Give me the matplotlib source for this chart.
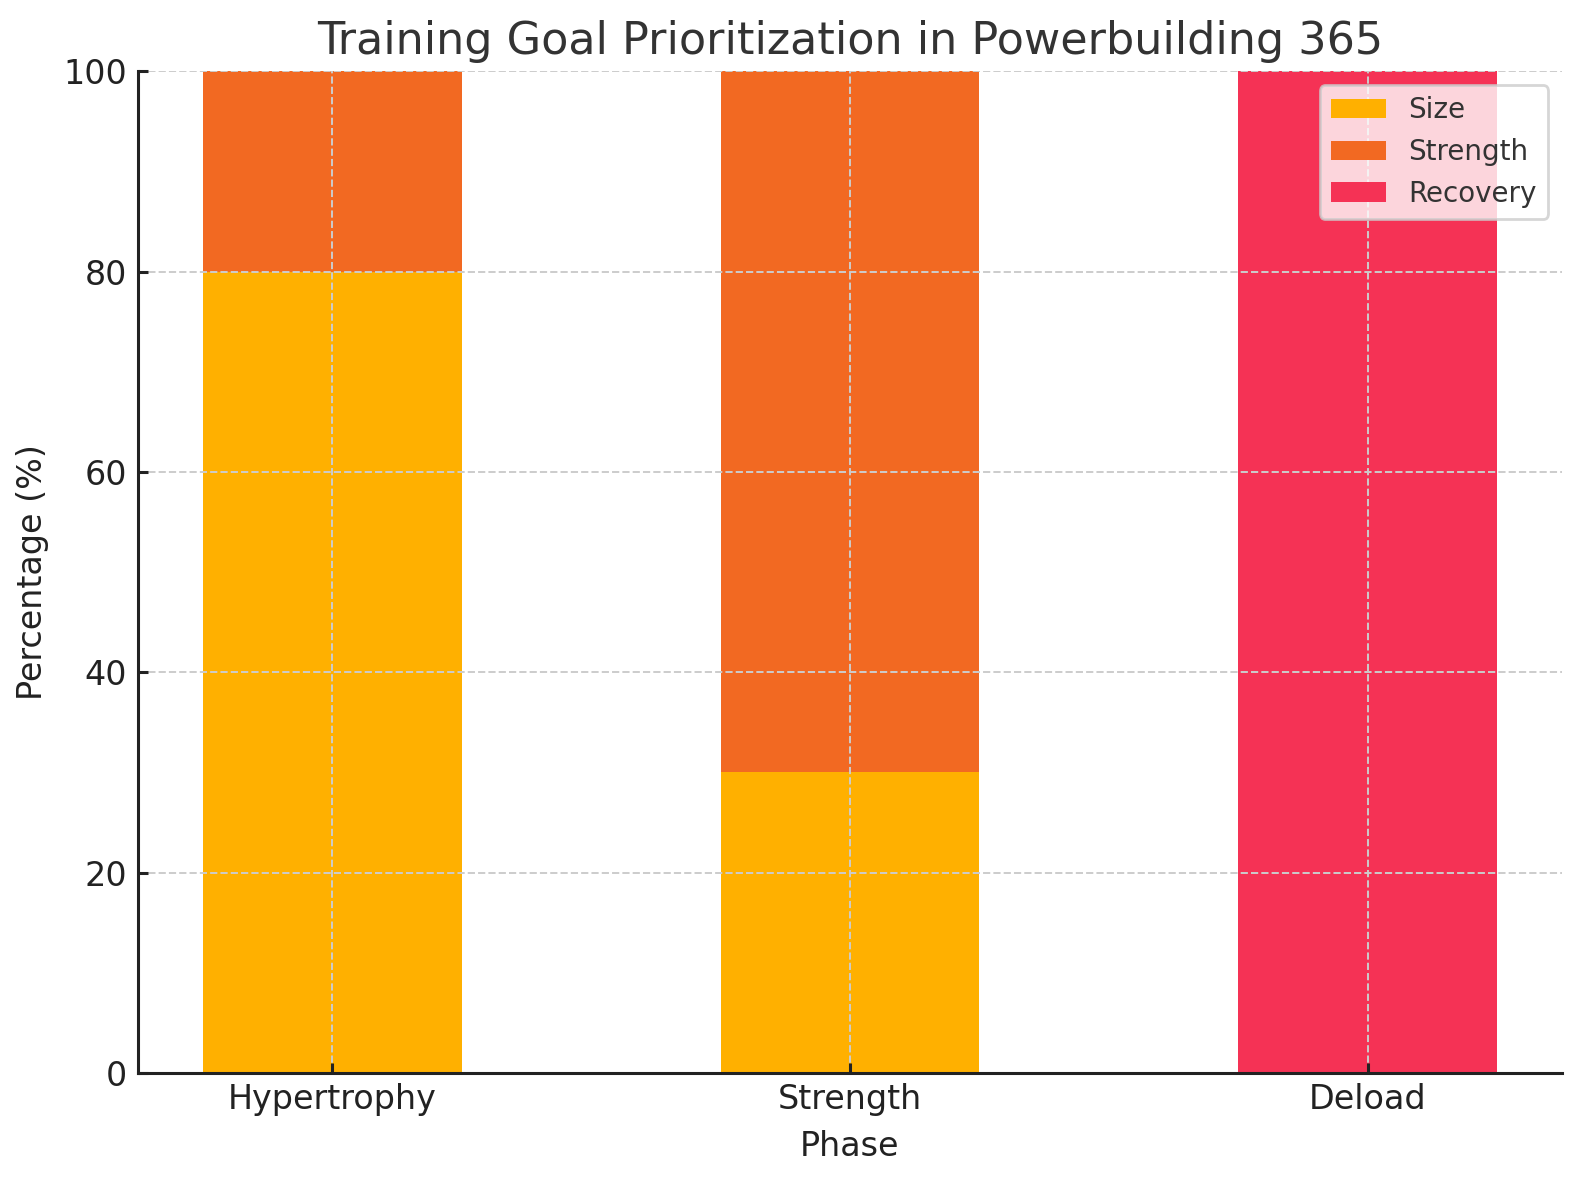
import matplotlib
matplotlib.use("Agg")
import matplotlib.pyplot as plt
import numpy as np

phases = ["Hypertrophy", "Strength", "Deload"]
size_vals = [80, 30, 0]
strength_vals = [20, 70, 0]
recovery_vals = [0, 0, 100]

colors = {"Size": "#FFB000", "Strength": "#F26922", "Recovery": "#F53255"}

fig = plt.figure(figsize=(7.9, 5.9), dpi=200)
ax = fig.add_axes([0.0873, 0.0907, 0.9013, 0.849])

x = np.arange(len(phases))
w = 0.5
ax.bar(x, size_vals, w, color=colors["Size"], label="Size", zorder=1)
ax.bar(x, strength_vals, w, bottom=size_vals, color=colors["Strength"], label="Strength", zorder=1)
bottom2 = np.array(size_vals) + np.array(strength_vals)
ax.bar(x, recovery_vals, w, bottom=bottom2, color=colors["Recovery"], label="Recovery", zorder=1)

ax.set_ylim(0, 100)
ax.set_xticks(x)
ax.set_xticklabels(phases)
ax.tick_params(axis="both", labelsize=12, colors="#222222", direction="in", length=3.5, width=1.1)
ax.tick_params(axis="x", pad=3.5)
ax.tick_params(axis="y", pad=4)
ax.set_xlabel("Phase", fontsize=12, color="#222222", labelpad=5)
ax.set_ylabel("Percentage (%)", fontsize=12, color="#222222", labelpad=5)
ax.set_title("Training Goal Prioritization in Powerbuilding 365", fontsize=16, color="#333333", pad=6)

ax.grid(True, linestyle="--", color="#cccccc", linewidth=0.7)
ax.set_axisbelow(False)
for s in ["top", "right"]:
    ax.spines[s].set_visible(False)
for s in ["left", "bottom"]:
    ax.spines[s].set_color("#222222")
    ax.spines[s].set_linewidth(1.1)
    ax.spines[s].set_zorder(5)

leg = ax.legend(loc="upper right", fontsize=10, framealpha=0.8, edgecolor="#cccccc")
for t in leg.get_texts():
    t.set_color("#333333")

fig.savefig("out.png", dpi=200)
